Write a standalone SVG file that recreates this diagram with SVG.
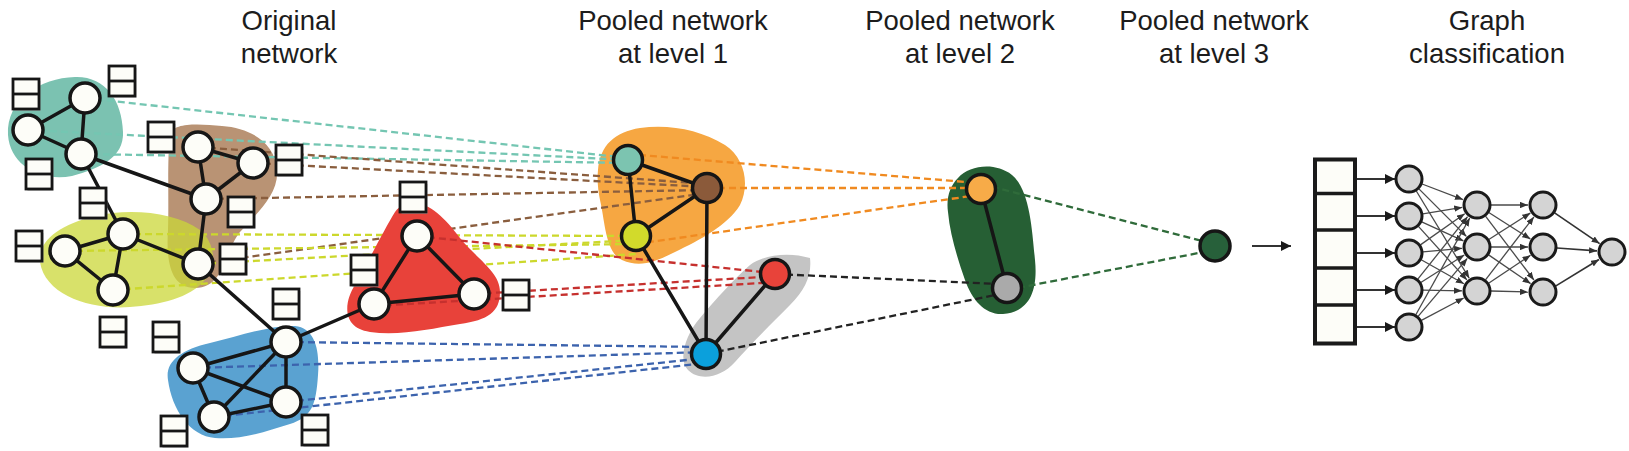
<svg xmlns="http://www.w3.org/2000/svg" width="1629" height="451" viewBox="0 0 1629 451">
<style>
.t{font-family:"Liberation Sans",Arial,sans-serif;font-size:27.5px;fill:#1c1c1c;text-anchor:middle}
.wn{fill:#fdfdf8;stroke:#161616;stroke-width:3.5}
.pn{stroke:#161616;stroke-width:3.5}
.e{stroke:#161616;stroke-width:3.5;fill:none;stroke-linecap:round}
.d{fill:none;stroke-width:2.3;stroke-dasharray:7 4}
.nn{fill:#d4d4d4;stroke:#1a1a1a;stroke-width:3}
.nl{stroke:#4a4a4a;stroke-width:1.3;fill:none}
.al{stroke:#333;stroke-width:1.8;fill:none}
</style>
<defs>
<marker id="ah" viewBox="0 0 10 8" refX="10" refY="4" markerWidth="8" markerHeight="6.4" markerUnits="userSpaceOnUse" orient="auto"><path d="M0,0 L10,4 L0,8 z" fill="#333"/></marker>
<marker id="ahb" viewBox="0 0 10 10" refX="10" refY="5" markerWidth="10" markerHeight="10" markerUnits="userSpaceOnUse" orient="auto"><path d="M0,0 L10,5 L0,10 z" fill="#1a1a1a"/></marker>
<g id="fbox">
<rect x="1.5" y="2" width="26" height="30" fill="#aaa" opacity="0.6"/>
<rect x="0" y="0" width="26" height="30" fill="#fdfdf8" stroke="#161616" stroke-width="2.8"/>
<line x1="0" y1="15" x2="26" y2="15" stroke="#161616" stroke-width="2.8"/>
</g>
</defs>
<rect width="1629" height="451" fill="#ffffff"/>

<g id="titles">
<text class="t" x="289" y="30">Original</text>
<text class="t" x="289" y="63">network</text>
<text class="t" x="673" y="30">Pooled network</text>
<text class="t" x="673" y="63">at level 1</text>
<text class="t" x="960" y="30">Pooled network</text>
<text class="t" x="960" y="63">at level 2</text>
<text class="t" x="1214" y="30">Pooled network</text>
<text class="t" x="1214" y="63">at level 3</text>
<text class="t" x="1487" y="30">Graph</text>
<text class="t" x="1487" y="63">classification</text>
</g>

<g id="clusters">
<path id="cl-teal" fill="#7bc2b1" d="M8,135 C6,100 40,78 75,77 C105,76 122,100 123,132 C124,158 100,168 72,176 C40,182 10,165 8,135 Z"/>
<path id="cl-brown" fill="#b99374" d="M170,135 C172,122 200,124 222,126 C250,128 275,142 277,170 C279,195 255,215 240,232 C225,250 225,288 195,288 C170,288 166,260 168,230 C169,200 167,160 170,135 Z"/>
<path id="cl-yellow" fill="#cbd738" fill-opacity="0.75" d="M40,262 C38,240 60,225 95,216 C130,208 175,212 200,230 C215,242 218,268 205,280 C190,298 160,305 130,307 C90,310 45,295 40,262 Z"/>
<path id="cl-blue" fill="#5aa2d1" d="M168,380 C165,362 180,350 210,343 C240,336 270,325 295,326 C315,328 320,350 318,375 C316,405 312,417 290,424 C265,432 240,440 215,438 C190,436 172,410 168,380 Z"/>
<path id="cl-orange" fill="#f6a742" d="M598,170 C600,145 615,132 640,128 C670,124 700,130 725,145 C745,158 750,185 740,205 C728,225 700,240 675,252 C655,262 640,268 622,260 C605,252 605,220 600,200 C598,190 597,180 598,170 Z"/>
<path id="cl-gray" fill="#c4c4c4" d="M810,258 C812,275 805,290 790,305 C770,325 750,345 735,362 C722,377 700,382 688,370 C678,360 685,335 700,318 C715,300 735,278 750,265 C765,254 790,252 810,258 Z"/>
<path id="cl-green" fill="#265f34" d="M958,178 C970,165 995,162 1012,175 C1030,190 1032,230 1035,260 C1038,290 1030,312 1003,314 C985,315 972,300 965,280 C958,260 950,235 948,212 C946,198 950,186 958,178 Z"/>
</g>

<g id="connectors">
<g id="links-teal" class="d" stroke="#74c6b2">
<line x1="85" y1="98" x2="628" y2="158"/>
<line x1="28" y1="130" x2="628" y2="160"/>
<line x1="81" y1="154" x2="628" y2="163"/>
</g>
<g id="links-brown" class="d" stroke="#8a5e3e">
<line x1="198" y1="147" x2="707" y2="184"/>
<line x1="253" y1="163" x2="707" y2="187"/>
<line x1="206" y1="199" x2="707" y2="190"/>
<line x1="198" y1="264" x2="707" y2="193"/>
</g>
<g id="links-yellow" class="d" stroke="#ccd82c">
<line x1="123" y1="234" x2="636" y2="236"/>
<line x1="65" y1="251" x2="636" y2="244"/>
<line x1="198" y1="264" x2="636" y2="240"/>
<line x1="113" y1="290" x2="636" y2="254"/>
</g>
<path id="cl-red" fill="#e8423a" d="M413,203 C430,203 445,218 460,238 C478,260 500,272 500,292 C500,312 488,320 460,324 C430,329 400,336 370,332 C340,328 345,300 355,285 C368,262 385,228 395,212 C400,205 406,203 413,203 Z"/>
<g id="links-red" class="d" stroke="#c6302e">
<line x1="417" y1="236" x2="762" y2="272"/>
<line x1="474" y1="294" x2="762" y2="277"/>
<line x1="374" y1="306" x2="762" y2="283"/>
</g>
<g id="links-blue" class="d" stroke="#3c63ad">
<line x1="286" y1="342" x2="706" y2="347"/>
<line x1="193" y1="368" x2="706" y2="352"/>
<line x1="286" y1="402" x2="706" y2="358"/>
<line x1="214" y1="417" x2="706" y2="363"/>
</g>
<g id="links-orange" class="d" stroke="#f08a20">
<line x1="628" y1="154" x2="978" y2="183"/>
<line x1="707" y1="188" x2="978" y2="188"/>
<line x1="636" y1="244" x2="978" y2="195"/>
</g>
<g id="links-black" class="d" stroke="#222">
<line x1="775" y1="274" x2="1000" y2="284"/>
<line x1="706" y1="354" x2="1000" y2="294"/>
</g>
<g id="links-green" class="d" stroke="#2f6b3a">
<line x1="981" y1="184" x2="1214" y2="244"/>
<line x1="1007" y1="290" x2="1214" y2="250"/>
</g>
<g id="edges" class="e">
<line x1="85" y1="98" x2="28" y2="130"/>
<line x1="85" y1="98" x2="81" y2="154"/>
<line x1="28" y1="130" x2="81" y2="154"/>
<line x1="81" y1="154" x2="206" y2="199"/>
<line x1="81" y1="154" x2="123" y2="234"/>
<line x1="198" y1="147" x2="253" y2="163"/>
<line x1="198" y1="147" x2="206" y2="199"/>
<line x1="253" y1="163" x2="206" y2="199"/>
<line x1="206" y1="199" x2="198" y2="264"/>
<line x1="123" y1="234" x2="65" y2="251"/>
<line x1="123" y1="234" x2="113" y2="290"/>
<line x1="65" y1="251" x2="113" y2="290"/>
<line x1="123" y1="234" x2="198" y2="264"/>
<line x1="198" y1="264" x2="286" y2="342"/>
<line x1="286" y1="342" x2="193" y2="368"/>
<line x1="286" y1="342" x2="214" y2="417"/>
<line x1="286" y1="342" x2="286" y2="402"/>
<line x1="193" y1="368" x2="214" y2="417"/>
<line x1="193" y1="368" x2="286" y2="402"/>
<line x1="214" y1="417" x2="286" y2="402"/>
<line x1="286" y1="342" x2="374" y2="304"/>
<line x1="417" y1="236" x2="374" y2="304"/>
<line x1="417" y1="236" x2="474" y2="294"/>
<line x1="374" y1="304" x2="474" y2="294"/>
<line x1="628" y1="160" x2="707" y2="188"/>
<line x1="628" y1="160" x2="636" y2="236"/>
<line x1="707" y1="188" x2="636" y2="236"/>
<line x1="707" y1="188" x2="706" y2="354"/>
<line x1="636" y1="236" x2="706" y2="354"/>
<line x1="775" y1="274" x2="706" y2="354"/>
<line x1="981" y1="189" x2="1007" y2="288"/>
</g>
<line id="arrow-main" class="al" x1="1252" y1="246" x2="1291" y2="246" marker-end="url(#ahb)"/>
<g id="nn-in" class="al">
<line x1="1357" y1="179" x2="1395" y2="179" marker-end="url(#ahb)"/>
<line x1="1357" y1="216" x2="1395" y2="216" marker-end="url(#ahb)"/>
<line x1="1357" y1="253" x2="1395" y2="253" marker-end="url(#ahb)"/>
<line x1="1357" y1="290" x2="1395" y2="290" marker-end="url(#ahb)"/>
<line x1="1357" y1="327" x2="1395" y2="327" marker-end="url(#ahb)"/>
</g>
<g id="nn-l1l2" class="nl" marker-end="url(#ah)">
<line x1="1422.1" y1="184" x2="1463" y2="199.6" marker-end="url(#ah)"/>
<line x1="1418.9" y1="188.9" x2="1466.4" y2="236.4" marker-end="url(#ah)"/>
<line x1="1416.3" y1="191" x2="1469.2" y2="278.2" marker-end="url(#ah)"/>
<line x1="1422.8" y1="213.8" x2="1462.2" y2="207.4" marker-end="url(#ah)"/>
<line x1="1421.7" y1="221.8" x2="1463.4" y2="240.8" marker-end="url(#ah)"/>
<line x1="1418.4" y1="226.4" x2="1466.9" y2="279.9" marker-end="url(#ah)"/>
<line x1="1420.4" y1="244.9" x2="1464.7" y2="213.7" marker-end="url(#ah)"/>
<line x1="1422.9" y1="251.8" x2="1462.1" y2="248.3" marker-end="url(#ah)"/>
<line x1="1421.2" y1="259.8" x2="1463.9" y2="283.7" marker-end="url(#ah)"/>
<line x1="1417.8" y1="279.1" x2="1467.6" y2="216.7" marker-end="url(#ah)"/>
<line x1="1420.8" y1="282.5" x2="1464.3" y2="255" marker-end="url(#ah)"/>
<line x1="1423" y1="290.2" x2="1462" y2="290.8" marker-end="url(#ah)"/>
<line x1="1415.8" y1="314.8" x2="1469.7" y2="218.1" marker-end="url(#ah)"/>
<line x1="1418.1" y1="316.3" x2="1467.3" y2="258.4" marker-end="url(#ah)"/>
<line x1="1421.4" y1="320.4" x2="1463.7" y2="298" marker-end="url(#ah)"/>
</g>
<g id="nn-l2l3" class="nl">
<line x1="1491" y1="205" x2="1528" y2="205" marker-end="url(#ah)"/>
<line x1="1488.8" y1="212.5" x2="1530.3" y2="238.9" marker-end="url(#ah)"/>
<line x1="1485.5" y1="216.2" x2="1533.9" y2="280" marker-end="url(#ah)"/>
<line x1="1488.8" y1="239.5" x2="1530.3" y2="213.1" marker-end="url(#ah)"/>
<line x1="1491" y1="247" x2="1528" y2="247" marker-end="url(#ah)"/>
<line x1="1488.6" y1="254.9" x2="1530.6" y2="283.6" marker-end="url(#ah)"/>
<line x1="1485.5" y1="279.9" x2="1533.9" y2="216.9" marker-end="url(#ah)"/>
<line x1="1488.6" y1="283.2" x2="1530.5" y2="255.3" marker-end="url(#ah)"/>
<line x1="1491" y1="291" x2="1528" y2="292" marker-end="url(#ah)"/>
</g>
<g id="nn-l3out" class="nl" style="stroke-width:1.7;stroke:#333">
<line x1="1554.6" y1="212.9" x2="1599.6" y2="243.6" marker-end="url(#ah)"/>
<line x1="1557" y1="248" x2="1597" y2="250.9" marker-end="url(#ah)"/>
<line x1="1555.1" y1="286.4" x2="1599" y2="259.5" marker-end="url(#ah)"/>
</g>
</g>

<g id="nodes-original">
<g id="n-a1"><circle class="wn" cx="85" cy="98" r="15"/></g>
<g id="n-a2"><circle class="wn" cx="28" cy="130" r="15"/></g>
<g id="n-a3"><circle class="wn" cx="81" cy="154" r="15"/></g>
<g id="n-b1"><circle class="wn" cx="198" cy="147" r="15"/></g>
<g id="n-b2"><circle class="wn" cx="253" cy="163" r="15"/></g>
<g id="n-b3"><circle class="wn" cx="206" cy="199" r="15"/></g>
<g id="n-c1"><circle class="wn" cx="123" cy="234" r="15"/></g>
<g id="n-c2"><circle class="wn" cx="65" cy="251" r="15"/></g>
<g id="n-c3"><circle class="wn" cx="113" cy="290" r="15"/></g>
<g id="n-c4"><circle class="wn" cx="198" cy="264" r="15"/></g>
<g id="n-d1"><circle class="wn" cx="286" cy="342" r="15"/></g>
<g id="n-d2"><circle class="wn" cx="193" cy="368" r="15"/></g>
<g id="n-d3"><circle class="wn" cx="214" cy="417" r="15"/></g>
<g id="n-d4"><circle class="wn" cx="286" cy="402" r="15"/></g>
<g id="n-e1"><circle class="wn" cx="417" cy="236" r="15"/></g>
<g id="n-e2"><circle class="wn" cx="374" cy="304" r="15"/></g>
<g id="n-e3"><circle class="wn" cx="474" cy="294" r="15"/></g>
</g>

<g id="features">
<use href="#fbox" x="13" y="79"/>
<use href="#fbox" x="109" y="66"/>
<use href="#fbox" x="148" y="122"/>
<use href="#fbox" x="26" y="159"/>
<use href="#fbox" x="80" y="188"/>
<use href="#fbox" x="276" y="145"/>
<use href="#fbox" x="228" y="197"/>
<use href="#fbox" x="16" y="231"/>
<use href="#fbox" x="220" y="244"/>
<use href="#fbox" x="273" y="289"/>
<use href="#fbox" x="100" y="317"/>
<use href="#fbox" x="153" y="322"/>
<use href="#fbox" x="161" y="416"/>
<use href="#fbox" x="302" y="415"/>
<use href="#fbox" x="400" y="182"/>
<use href="#fbox" x="351" y="255"/>
<use href="#fbox" x="503" y="280"/>
</g>

<g id="nodes-level1">
<g id="p-teal"><circle class="pn" fill="#7cc4b0" cx="628" cy="160" r="14.5"/></g>
<g id="p-brown"><circle class="pn" fill="#8b5a3a" cx="707" cy="188" r="14.5"/></g>
<g id="p-yellow"><circle class="pn" fill="#d2da2b" cx="636" cy="236" r="14.5"/></g>
<g id="p-red"><circle class="pn" fill="#e8433a" cx="775" cy="274" r="14.5"/></g>
<g id="p-blue"><circle class="pn" fill="#0ba0dc" cx="706" cy="354" r="14.5"/></g>
</g>
<g id="nodes-level2">
<g id="q-orange"><circle class="pn" fill="#f7ab48" cx="981" cy="189" r="14.5"/></g>
<g id="q-gray"><circle class="pn" fill="#aaaaaa" cx="1007" cy="288" r="14.5"/></g>
</g>
<g id="nodes-level3">
<g id="r-green"><circle class="pn" fill="#27603a" cx="1215" cy="246" r="15"/></g>
</g>

<g id="readout">
<rect x="1315" y="159.5" width="40" height="184" fill="#fdfdf8" stroke="#1a1a1a" stroke-width="4"/>
<g stroke="#1a1a1a" stroke-width="3.5">
<line x1="1315" y1="193.5" x2="1355" y2="193.5"/>
<line x1="1315" y1="230" x2="1355" y2="230"/>
<line x1="1315" y1="268" x2="1355" y2="268"/>
<line x1="1315" y1="305" x2="1355" y2="305"/>
</g>
</g>
<g id="nn-nodes">
<g id="h1-1"><circle class="nn" cx="1409" cy="179" r="13"/></g>
<g id="h1-2"><circle class="nn" cx="1409" cy="216" r="13"/></g>
<g id="h1-3"><circle class="nn" cx="1409" cy="253" r="13"/></g>
<g id="h1-4"><circle class="nn" cx="1409" cy="290" r="13"/></g>
<g id="h1-5"><circle class="nn" cx="1409" cy="327" r="13"/></g>
<g id="h2-1"><circle class="nn" cx="1477" cy="205" r="13"/></g>
<g id="h2-2"><circle class="nn" cx="1477" cy="247" r="13"/></g>
<g id="h2-3"><circle class="nn" cx="1477" cy="291" r="13"/></g>
<g id="h3-1"><circle class="nn" cx="1543" cy="205" r="13"/></g>
<g id="h3-2"><circle class="nn" cx="1543" cy="247" r="13"/></g>
<g id="h3-3"><circle class="nn" cx="1543" cy="292" r="13"/></g>
<g id="out"><circle class="nn" cx="1612" cy="252" r="13"/></g>
</g>
</svg>
